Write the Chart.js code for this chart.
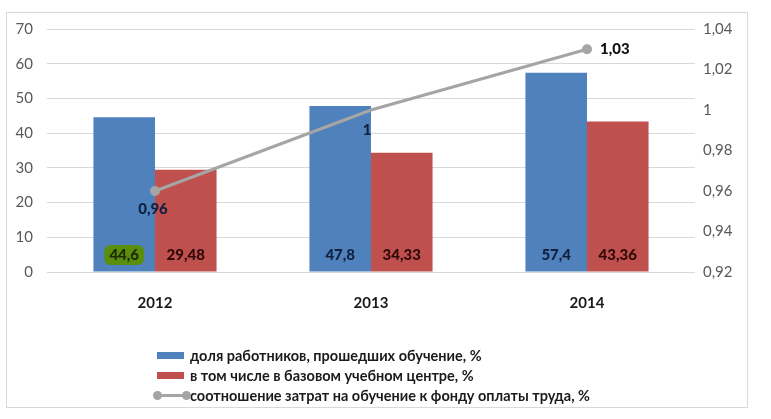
<!DOCTYPE html>
<html lang="ru">
<head>
  <meta charset="UTF-8" />
  <title>Обучение персонала</title>
  <script src="https://cdn.jsdelivr.net/npm/chart.js"></script>
  <style>
    body {
      margin: 0;
      background: #fff;
      font-family: 'Lato', sans-serif;
    }
    .wrap {
      position: relative;
      width: 771px;
      height: 419px;
    }
    .frame {
      position: absolute;
      left: 6px;
      top: 12px;
      width: 740px;
      height: 394px;
      border: 1px solid #d9d9d9;
      pointer-events: none;
    }
    .legend {
      position: absolute;
      left: 157px;
      top: 345px;
      font-size: 14.5px;
      font-weight: bold;
      color: #1a1a1a;
    }
    .legend .row {
      display: flex;
      align-items: center;
      height: 20px;
    }
    .legend .box {
      display: inline-block;
      width: 27px;
      height: 7px;
      margin-right: 6px;
    }
    .legend .ln {
      position: relative;
      display: inline-block;
      width: 30px;
      height: 3px;
      margin-right: 3px;
      background: #a5a5a5;
    }
    .legend .ln::before, .legend .ln::after {
      content: '';
      position: absolute;
      top: -3px;
      width: 9px;
      height: 9px;
      border-radius: 50%;
      background: #a5a5a5;
    }
    .legend .ln::before { left: -4px; }
    .legend .ln::after { right: -4px; }
  </style>
</head>
<body>
  <div class="wrap">
    <canvas id="chart" width="771" height="419"></canvas>
    <div class="frame"></div>
    <div class="legend" id="legend"></div>
  </div>

  <script>
    const years = ['2012', '2013', '2014'];
    const trainedShare = [44.6, 47.8, 57.4];
    const baseCenterShare = [29.48, 34.33, 43.36];
    const costRatio = [0.96, 1, 1.03];

    const seriesNames = [
      'доля работников, прошедших обучение, %',
      'в том числе в базовом учебном центре, %',
      'соотношение затрат на обучение к фонду оплаты труда, %'
    ];

    const BLUE = '#4f81bd';
    const RED = '#c0504d';
    const GRAY = '#a5a5a5';
    const FONT = "'Lato', sans-serif";

    // numbers with a comma, like in the source
    const fmt = v => String(+(+v).toFixed(2)).replace('.', ',');

    // data labels drawn from element positions
    const labelPlugin = {
      id: 'labels',
      afterDatasetsDraw(chart) {
        const ctx = chart.ctx;
        const base = chart.scales.y.getPixelForValue(0);
        ctx.save();
        ctx.font = '900 15px ' + FONT;
        ctx.textAlign = 'center';
        ctx.textBaseline = 'middle';

        [0, 1].forEach(di => {
          const meta = chart.getDatasetMeta(di);
          meta.data.forEach((el, i) => {
            const txt = fmt(chart.data.datasets[di].data[i]);
            const y = base - 17;
            if (di === 0 && i === 0) {
              const w = ctx.measureText(txt).width + 10;
              ctx.fillStyle = '#5a8f0e';
              ctx.beginPath();
              ctx.roundRect(el.x - w / 2, y - 10, w, 20, 6);
              ctx.fill();
              ctx.fillStyle = '#1d2a08';
            } else {
              ctx.fillStyle = di === 0 ? '#10213f' : '#2e0908';
            }
            ctx.fillText(txt, el.x, y);
          });
        });

        const lineMeta = chart.getDatasetMeta(2);
        const offs = [[-2, 18, 'center'], [-4, 20, 'center'], [13, 0, 'left']];
        lineMeta.data.forEach((pt, i) => {
          const o = offs[i];
          ctx.textAlign = o[2];
          ctx.fillStyle = i === 2 ? '#111' : '#10213f';
          ctx.fillText(fmt(costRatio[i]), pt.x + o[0], pt.y + o[1]);
        });
        ctx.restore();
      }
    };

    new Chart(document.getElementById('chart'), {
      type: 'bar',
      data: {
        labels: years,
        datasets: [
          {
            label: seriesNames[0],
            data: trainedShare,
            backgroundColor: BLUE,
            yAxisID: 'y',
            order: 2,
            categoryPercentage: 0.57,
            barPercentage: 1
          },
          {
            label: seriesNames[1],
            data: baseCenterShare,
            backgroundColor: RED,
            yAxisID: 'y',
            order: 2,
            categoryPercentage: 0.57,
            barPercentage: 1
          },
          {
            type: 'line',
            label: seriesNames[2],
            data: costRatio,
            borderColor: GRAY,
            backgroundColor: GRAY,
            borderWidth: 3,
            pointRadius: [5, 0, 5],
            pointBackgroundColor: GRAY,
            pointBorderWidth: 0,
            yAxisID: 'y1',
            order: 1
          }
        ]
      },
      options: {
        responsive: false,
        animation: false,
        layout: { padding: { top: 29, bottom: 107 } },
        plugins: {
          legend: { display: false },
          tooltip: { enabled: false }
        },
        scales: {
          x: {
            grid: { display: false },
            border: { display: false },
            ticks: {
              padding: 14,
              color: '#1a1a1a',
              font: { family: FONT, size: 15, weight: 'bold' }
            },
            afterFit: s => { s.height = 40; }
          },
          y: {
            position: 'left',
            min: 0,
            max: 70,
            ticks: {
              stepSize: 10,
              padding: 14,
              color: '#595959',
              font: { family: FONT, size: 15 }
            },
            grid: { color: '#d9d9d9', drawTicks: false },
            border: { display: false },
            afterFit: s => { s.width = 47; }
          },
          y1: {
            position: 'right',
            min: 0.92,
            max: 1.04,
            ticks: {
              stepSize: 0.02,
              padding: 8,
              color: '#595959',
              font: { family: FONT, size: 15 },
              callback: v => fmt(v)
            },
            grid: { display: false, drawTicks: false },
            border: { display: false },
            afterFit: s => { s.width = 76; }
          }
        }
      },
      plugins: [labelPlugin]
    });

    // legend as plain html rows
    const legend = document.getElementById('legend');
    const marks = [
      '<span class="box" style="background:' + BLUE + '"></span>',
      '<span class="box" style="background:' + RED + '"></span>',
      '<span class="ln"></span>'
    ];
    seriesNames.forEach((name, i) => {
      const row = document.createElement('div');
      row.className = 'row';
      row.innerHTML = marks[i] + '<span>' + name + '</span>';
      legend.appendChild(row);
    });
  </script>
</body>
</html>
